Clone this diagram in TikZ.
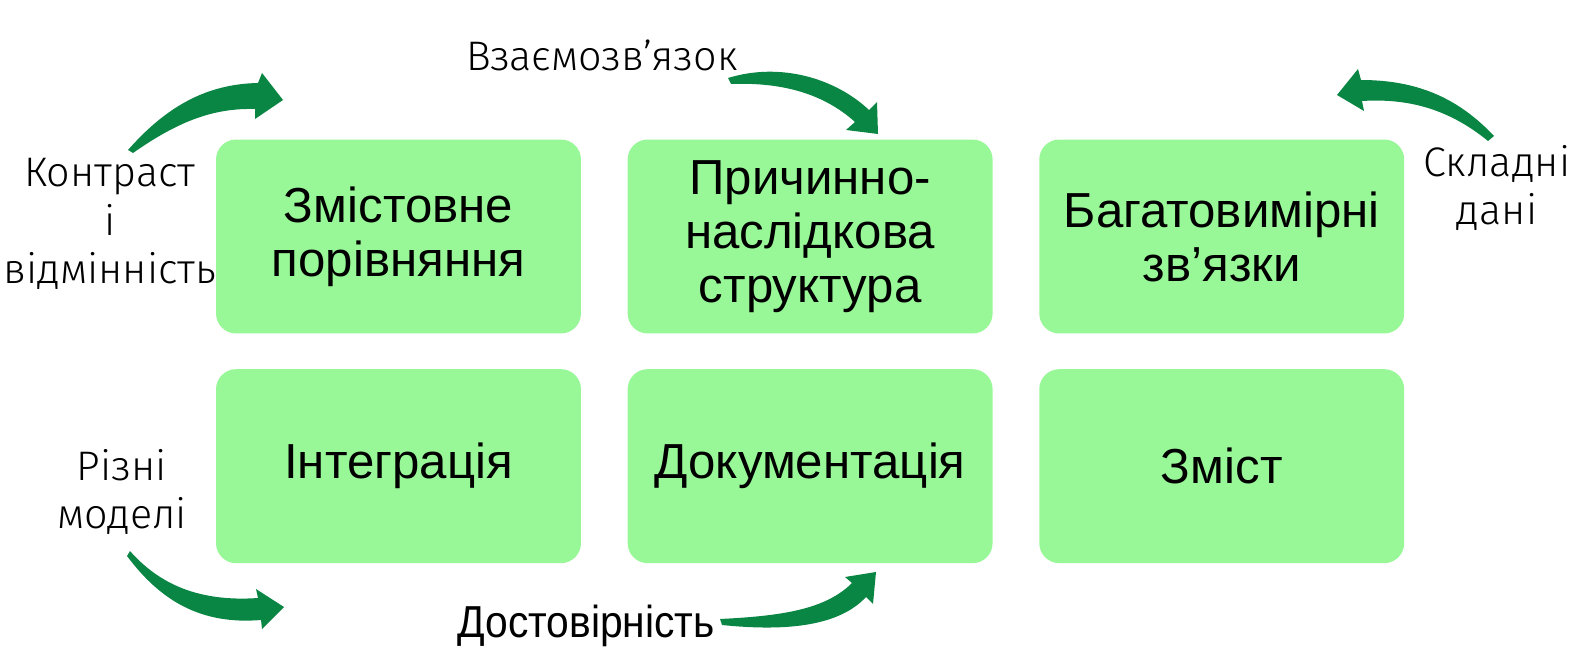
\documentclass[tikz,border=0pt]{standalone}
\usepackage{fontspec}
\setmainfont{Liberation Sans}
\newfontfamily\labelfont{Fira Sans Light}
\newfontfamily\narrowfont{Liberation Sans}[FakeStretch=0.91]
\usepackage{tikz}
\usetikzlibrary{positioning}
\definecolor{tilegreen}{RGB}{152,248,152}
\definecolor{arrowgreen}{RGB}{10,134,68}

\begin{document}
\begin{tikzpicture}[x=0.02cm, y=-0.02cm,
        tile/.style={rectangle, rounded corners=0.4cm, fill=tilegreen, minimum width=\tilew cm, minimum height=\tileh cm, align=center, font=\fontsize{28}{30.7}\selectfont},
        side/.style={align=center, font=\labelfont\fontsize{23.5}{27.5}\selectfont}]
        \def\tilew{7.3}
        \def\tileh{3.88}
        \def\colgap{0.92}
        \def\rowgap{0.7}
        \useasboundingbox[fill=white] (0,0) rectangle (1588,672);

        \node(tile1) [tile] at (398.5,236.5) {Змістовне\\порівняння};
        \node(tile2) [tile, right=\colgap cm of tile1] {Причинно-\\наслідкова\\структура};
        \node(tile3) [tile, right=\colgap cm of tile2] {Багатовимірні\\зв’язки};
        \node(tile4) [tile, below=\rowgap cm of tile1] {Інтеграція};
        \node(tile5) [tile, below=\rowgap cm of tile2] {Документація};
        \node(tile6) [tile, below=\rowgap cm of tile3] {Зміст};

        \node(contrast) [side] at (110,224) {Контраст\\і\\відмінність};
        \node(models) [side] at (122,492) {Різні\\моделі};
        \node(relation) [side] at (602,55) {Взаємозв’язок};
        \node(complex) [side] at (1497,188) {Складні\\дані};
        \node(trust) [font=\narrowfont\fontsize{25.5}{28}\selectfont] at (586,626) {Достовірність};

        % bent arrows
        \fill[arrowgreen] (128,150) .. controls (165,108) and (205,84) .. (258,83) -- (262,73) -- (283,100) -- (255,119) -- (255,109) .. controls (215,108) and (180,120) .. (133,153) -- cycle;
        \fill[arrowgreen] (728,78) .. controls (780,62) and (835,78) .. (869,110) -- (877,102) -- (878,134) -- (846,130) -- (855,122) .. controls (825,95) and (785,82) .. (731,84) -- cycle;
        \fill[arrowgreen] (1494,136) .. controls (1460,100) and (1420,80) .. (1361,80) -- (1358,69) -- (1337,95) -- (1364,111) -- (1362,101) .. controls (1410,98) and (1450,110) .. (1488,141) -- cycle;
        \fill[arrowgreen] (130,551) .. controls (160,585) and (200,602) .. (258,598) -- (256,589) -- (284,607) -- (262,629) -- (261,620) .. controls (200,625) and (160,600) .. (127,556) -- cycle;
        \fill[arrowgreen] (720,619) .. controls (780,616) and (825,610) .. (852,583) -- (845,577) -- (876,572) -- (873,604) -- (866,597) .. controls (840,625) and (790,632) .. (722,625) -- cycle;
    \end{tikzpicture}
\end{document}
